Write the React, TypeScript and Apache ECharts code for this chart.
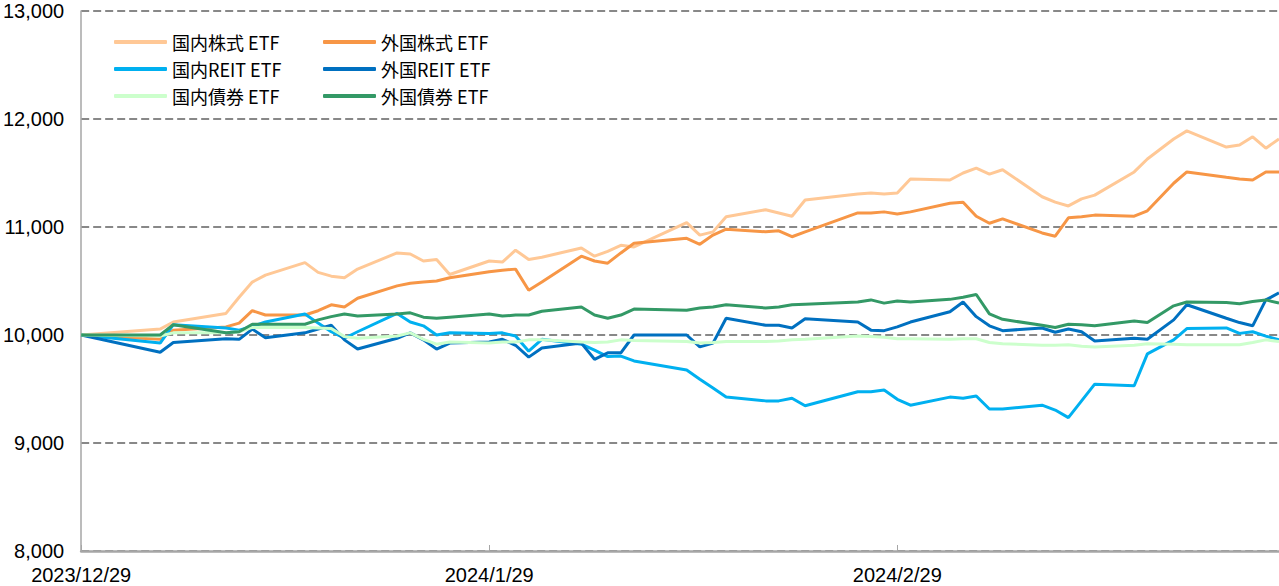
import React, { useEffect, useRef } from "react";
import * as echarts from "echarts";

const dates = [
  "2023/12/29",
  "2024/1/4", "2024/1/5", "2024/1/9", "2024/1/10", "2024/1/11", "2024/1/12",
  "2024/1/15", "2024/1/16", "2024/1/17", "2024/1/18", "2024/1/19",
  "2024/1/22", "2024/1/23", "2024/1/24", "2024/1/25", "2024/1/26",
  "2024/1/29", "2024/1/30", "2024/1/31", "2024/2/1", "2024/2/2",
  "2024/2/5", "2024/2/6", "2024/2/7", "2024/2/8", "2024/2/9",
  "2024/2/13", "2024/2/14", "2024/2/15", "2024/2/16",
  "2024/2/19", "2024/2/20", "2024/2/21", "2024/2/22",
  "2024/2/26", "2024/2/27", "2024/2/28", "2024/2/29", "2024/3/1",
  "2024/3/4", "2024/3/5", "2024/3/6", "2024/3/7", "2024/3/8",
  "2024/3/11", "2024/3/12", "2024/3/13", "2024/3/14", "2024/3/15",
  "2024/3/18", "2024/3/19", "2024/3/21", "2024/3/22",
  "2024/3/25", "2024/3/26", "2024/3/27", "2024/3/28", "2024/3/29",
];

const seriesNames = [
  "国内株式 ETF", "外国株式 ETF",
  "国内REIT ETF", "外国REIT ETF",
  "国内債券 ETF", "外国債券 ETF",
];

const domStock = [
  10000, 10055, 10120, 10200, 10350, 10490, 10555, 10670, 10580, 10545, 10530, 10610,
  10760, 10750, 10685, 10700, 10560,
  10685, 10675, 10785, 10700, 10720,
  10805, 10730, 10775, 10830, 10815,
  11040, 10925, 10955, 11095,
  11160, 11130, 11100, 11250,
  11305, 11315, 11305, 11315, 11445,
  11435, 11500, 11545, 11490, 11530,
  11280, 11230, 11195, 11260, 11295,
  11510, 11630, 11815, 11890,
  11740, 11760, 11835, 11730, 11815,
];

const forStock = [
  10000, 9960, 10045, 10075, 10110, 10225, 10185, 10185, 10225, 10280, 10260, 10340,
  10455, 10480, 10490, 10500, 10530,
  10585, 10600, 10610, 10415, 10490,
  10730, 10685, 10665, 10760, 10850,
  10895, 10840, 10925, 10980,
  10955, 10965, 10910, 10955,
  11130, 11130, 11140, 11120, 11140,
  11220, 11230, 11100, 11035, 11075,
  10945, 10915, 11085, 11095, 11110,
  11100, 11150, 11405, 11510,
  11460, 11445, 11435, 11510, 11510,
];

const domReit = [
  10000, 9925, 10095, 10065, 10045, 10080, 10120, 10195, 10110, 10030, 9970, 10030,
  10200, 10120, 10085, 10000, 10020,
  10015, 10020, 9990, 9850, 9960,
  9915, 9860, 9800, 9805, 9760,
  9675, 9590, 9510, 9425,
  9390, 9390, 9415, 9345,
  9475, 9475, 9490, 9405, 9350,
  9425, 9415, 9435, 9315, 9315,
  9350, 9305, 9235, 9390, 9545,
  9530, 9825, 9955, 10060,
  10065, 10015, 10030, 9990, 9955,
];

const forReit = [
  10000, 9840, 9930, 9965, 9960, 10055, 9975, 10020, 10055, 10090, 9955, 9870,
  9970, 10020, 9955, 9870, 9925,
  9935, 9960, 9905, 9795, 9880,
  9925, 9775, 9835, 9835, 10000,
  10000, 9890, 9925, 10155,
  10090, 10090, 10065, 10150,
  10120, 10045, 10040, 10075, 10120,
  10215, 10305, 10170, 10085, 10040,
  10065, 10025, 10055, 10030, 9945,
  9970, 9960, 10140, 10280,
  10155, 10115, 10085, 10325, 10390,
];

const domBond = [
  10000, 9990, 10020, 10020, 10030, 10070, 10070, 10070, 10065, 10060, 9985, 9970,
  9990, 10020, 9960, 9915, 9935,
  9925, 9935, 9935, 9955, 9955,
  9935, 9930, 9935, 9955, 9950,
  9940, 9925, 9930, 9940,
  9940, 9945, 9955, 9960,
  9990, 9985, 9980, 9965, 9965,
  9960, 9965, 9965, 9930, 9920,
  9905, 9905, 9910, 9895, 9890,
  9905, 9920, 9915, 9910,
  9910, 9910, 9930, 9955, 9940,
];

const forBond = [
  10000, 10000, 10095, 10020, 10030, 10100, 10100, 10100, 10140, 10170, 10195, 10175,
  10195, 10205, 10165, 10155, 10165,
  10195, 10175, 10185, 10185, 10220,
  10260, 10185, 10155, 10185, 10240,
  10230, 10250, 10260, 10280,
  10250, 10260, 10280, 10285,
  10305, 10325, 10295, 10315, 10305,
  10330, 10350, 10375, 10195, 10145,
  10090, 10070, 10100, 10095, 10085,
  10130, 10115, 10270, 10305,
  10300, 10290, 10310, 10325, 10295,
];

const xTickLabels = ["2023/12/29", "2024/1/29", "2024/2/29"];
const xAxisEnd = "2024/3/29";
const yMin = 8000;
const yMax = 13000;
const yStep = 1000;

const colors = ["#FFC896", "#F79646", "#00B0F0", "#0070C0", "#CCFFCC", "#339966"];

function toDay(s: string): number {
  const [y, m, d] = s.split("/").map(Number);
  return Date.UTC(y, m - 1, d) / 86400000;
}

export default function App() {
  const ref = useRef<HTMLDivElement>(null);

  useEffect(() => {
    if (!ref.current) return;
    const chart = echarts.init(ref.current, null, { renderer: "svg" });
    const origin = toDay(dates[0]);
    const xMax = toDay(xAxisEnd) - origin;
    const tickDays = xTickLabels.map((s) => toDay(s) - origin);
    const step = tickDays[1] - tickDays[0];
    const all = [domStock, forStock, domReit, forReit, domBond, forBond];

    const legendText = {
      fontFamily: "'Noto Sans CJK JP', sans-serif",
      fontSize: 18,
      lineHeight: 18,
      color: "#000",
    };
    const legendBase = {
      orient: "vertical",
      top: 33,
      icon: "roundRect",
      itemWidth: 53,
      itemHeight: 4,
      itemGap: 9,
      padding: 0,
      textStyle: legendText,
    };

    chart.setOption({
      animation: false,
      backgroundColor: "#fff",
      grid: { left: 80, right: 0, top: 11, bottom: 35, containLabel: false },
      legend: [
        {
          ...legendBase,
          data: [seriesNames[0], seriesNames[2], seriesNames[4]],
          left: 114,
        },
        {
          ...legendBase,
          data: [seriesNames[1], seriesNames[3], seriesNames[5]],
          left: 323,
        },
      ],
      xAxis: {
        type: "value",
        min: 0,
        max: xMax,
        interval: step,
        axisLine: { show: true, lineStyle: { color: "#A6A6A6", width: 2.5 } },
        axisTick: { show: true, inside: true, length: 6, lineStyle: { color: "#A6A6A6", width: 1 } },
        splitLine: { show: false },
        axisLabel: {
          showMaxLabel: false,
          margin: 14,
          fontFamily: "'Liberation Sans', Arial, sans-serif",
          fontSize: 20,
          color: "#000",
          formatter: (v: number) => {
            const i = tickDays.indexOf(Math.round(v));
            return i >= 0 ? xTickLabels[i] : "";
          },
        },
      },
      yAxis: {
        type: "value",
        min: yMin,
        max: yMax,
        interval: yStep,
        axisLine: { show: true, lineStyle: { color: "#A6A6A6", width: 1.5 } },
        axisTick: { show: false },
        splitLine: {
          show: true,
          lineStyle: { color: "#888", width: 2, type: [8, 4] },
        },
        axisLabel: {
          margin: 17,
          fontFamily: "'Liberation Sans', Arial, sans-serif",
          fontSize: 20,
          color: "#000",
          formatter: (v: number) => v.toLocaleString("en-US"),
        },
      },
      series: all.map((vals, k) => ({
        name: seriesNames[k],
        type: "line",
        symbol: "none",
        showSymbol: false,
        color: colors[k],
        lineStyle: { width: 3, color: colors[k] },
        data: vals.map((v, i) => [toDay(dates[i]) - origin, v]),
      })),
    });

    return () => chart.dispose();
  }, []);

  return (
    <div
      ref={ref}
      style={{ position: "absolute", left: 0, top: 0, width: 1279, height: 586 }}
    />
  );
}
